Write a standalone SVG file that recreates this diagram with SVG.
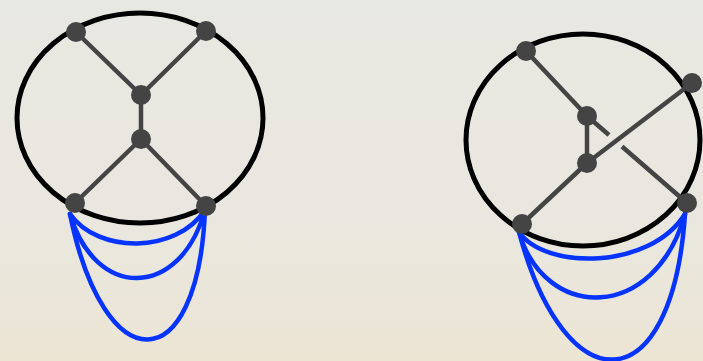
<svg xmlns="http://www.w3.org/2000/svg" width="703" height="361" viewBox="0 0 703 361">
<defs>
<linearGradient id="bg" x1="0" y1="0" x2="0" y2="1">
<stop offset="0" stop-color="#e8e8e2"/>
<stop offset="0.6" stop-color="#e9e7df"/>
<stop offset="1" stop-color="#ece5d4"/>
</linearGradient>
<style>
.ring{fill:none;stroke:#000;stroke-width:5}
.edge{stroke:#444;stroke-width:4.5;stroke-linecap:butt;fill:none}
.blue{fill:none;stroke:#0533ff;stroke-width:4.5;stroke-linecap:round}
.node{fill:#444}
</style>
</defs>
<rect width="703" height="361" fill="url(#bg)"/>
<g id="left-graph">
<ellipse id="left-ring" class="ring" cx="140" cy="118" rx="123" ry="105"/>
<g id="left-connectors">
<line class="edge" x1="76" y1="32" x2="141" y2="95"/>
<line class="edge" x1="206" y1="31" x2="141" y2="95"/>
<line class="edge" x1="141" y1="95" x2="141" y2="139"/>
<line class="edge" x1="141" y1="139" x2="75" y2="203"/>
<line class="edge" x1="141" y1="139" x2="206" y2="206"/>
<path class="blue" d="M70,214 C98,254 176,254 205,210"/>
<path class="blue" d="M70,214 C95,300 180,300 205,210"/>
<path class="blue" d="M70,214 C104,382 198,382 205,210"/>
</g>
<g id="L1"><circle class="node" cx="76" cy="32" r="10"/></g>
<g id="L2"><circle class="node" cx="206" cy="31" r="10"/></g>
<g id="L3"><circle class="node" cx="141" cy="95" r="10"/></g>
<g id="L4"><circle class="node" cx="141" cy="139" r="10"/></g>
<g id="L5"><circle class="node" cx="75" cy="203" r="10"/></g>
<g id="L6"><circle class="node" cx="206" cy="206" r="10"/></g>
</g>
<g id="right-graph">
<ellipse id="right-ring" class="ring" cx="583" cy="140" rx="117" ry="106"/>
<g id="right-connectors">
<line class="edge" x1="526" y1="51" x2="587" y2="116"/>
<line class="edge" x1="587" y1="116" x2="587" y2="163"/>
<line class="edge" x1="587" y1="116" x2="609" y2="135"/>
<line class="edge" x1="622" y1="146.5" x2="687" y2="203"/>
<line class="edge" x1="587" y1="163" x2="692" y2="83"/>
<line class="edge" x1="587" y1="163" x2="522" y2="224"/>
<path class="blue" d="M519,232 C545,270 650,270 685,214"/>
<path class="blue" d="M519,232 C545,322 655,322 685,214"/>
<path class="blue" d="M519,232 C565,405 672,405 685,214"/>
</g>
<g id="R1"><circle class="node" cx="526" cy="51" r="10"/></g>
<g id="R2"><circle class="node" cx="692" cy="83" r="10"/></g>
<g id="R3"><circle class="node" cx="587" cy="116" r="10"/></g>
<g id="R4"><circle class="node" cx="587" cy="163" r="10"/></g>
<g id="R5"><circle class="node" cx="522" cy="224" r="10"/></g>
<g id="R6"><circle class="node" cx="687" cy="203" r="10"/></g>
</g>
</svg>
